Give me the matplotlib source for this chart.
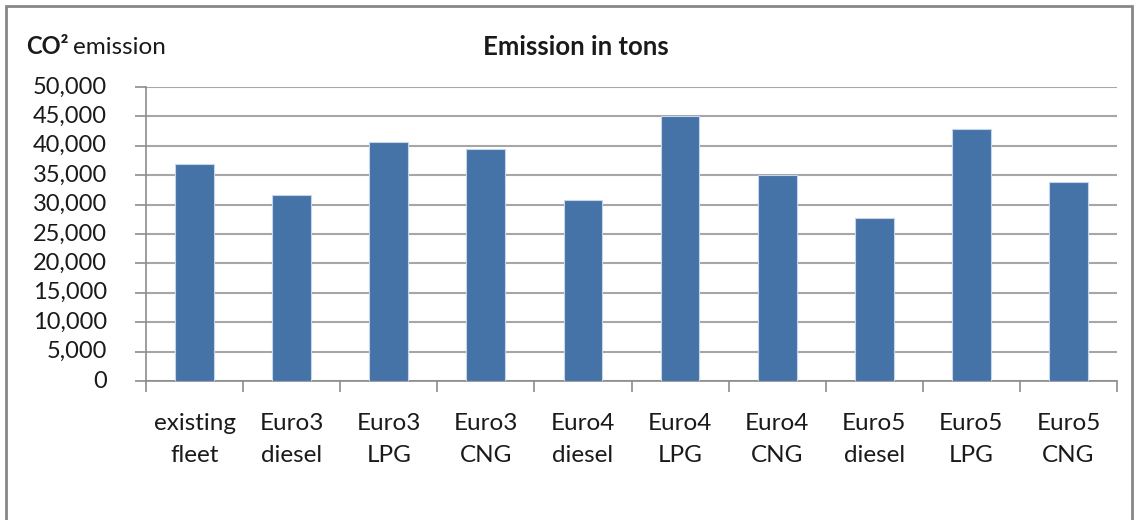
import matplotlib
matplotlib.use("Agg")
import matplotlib.pyplot as plt
from matplotlib.patches import Rectangle
from matplotlib.ticker import FuncFormatter, FixedLocator
import numpy as np

categories = ["existing\nfleet", "Euro3\ndiesel", "Euro3\nLPG", "Euro3\nCNG", "Euro4\ndiesel",
              "Euro4\nLPG", "Euro4\nCNG", "Euro5\ndiesel", "Euro5\nLPG", "Euro5\nCNG"]
emissions = [36900, 31700, 40600, 39500, 30700, 45000, 35000, 27700, 42800, 33900]
y_ticks = list(range(0, 50001, 5000))

plt.rcParams["font.family"] = ["Lato", "DejaVu Sans"]
W, H = 1139, 520
fig = plt.figure(figsize=(W / 100, H / 100), dpi=100)
ax = fig.add_axes([146 / W, 1 - 381 / H, (1117 - 146) / W, (381 - 87) / H])

x = np.arange(len(categories))
ax.bar(x, emissions, width=0.4, color="#4572A7", edgecolor="#c6d6ea", linewidth=0.8, zorder=3)

ax.set_xlim(-0.5, len(categories) - 0.5)
ax.set_ylim(0, 50000)
ax.yaxis.set_major_locator(FixedLocator(y_ticks))
ax.yaxis.set_major_formatter(FuncFormatter(lambda v, p: f"{int(v):,}"))
ax.set_xticks(x)
ax.set_xticklabels(categories, fontsize=17.5, color="#1a1a1a", linespacing=1.65)
ax.xaxis.set_minor_locator(FixedLocator(np.arange(-0.5, len(categories), 1.0)))
ax.tick_params(axis="x", which="major", length=0, pad=23)
ax.tick_params(axis="x", which="minor", length=8, width=1.2, color="#8c8c8c")
ax.tick_params(axis="y", length=8, width=1.2, color="#8c8c8c", labelsize=17,
               labelcolor="#1a1a1a", pad=20)
for lbl in ax.get_yticklabels():
    lbl.set_va("center")

ax.grid(axis="y", color="#a6a6a6", linewidth=1.5, zorder=0)
for side in ("top", "right"):
    ax.spines[side].set_visible(False)
for side in ("left", "bottom"):
    ax.spines[side].set_color("#8c8c8c")
    ax.spines[side].set_linewidth(1.2)

# chart title and axis caption
fig.text(576 / W, 1 - 47 / H, "Emission in tons", ha="center", va="center",
         fontsize=18.5, fontweight="bold", color="#1a1a1a")
fig.text(26 / W, 1 - 47 / H, "CO²", ha="left", va="center",
         fontsize=17, fontweight="bold", color="#1a1a1a")
fig.text(73 / W, 1 - 47 / H, "emission", ha="left", va="center",
         fontsize=17.5, color="#1a1a1a")

# outer chart frame
fig.patches.append(Rectangle((6 / W, -0.05), (1132 - 6) / W, 1.05 - 6 / H,
                             transform=fig.transFigure, fill=False,
                             edgecolor="#878787", linewidth=2))

fig.savefig("out.png", dpi=100)
